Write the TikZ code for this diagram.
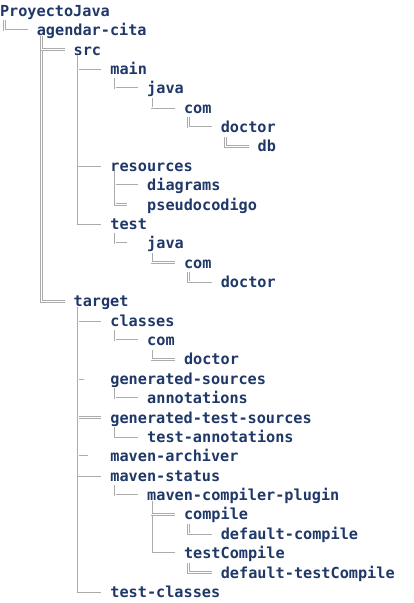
\documentclass[tikz,border=0pt]{standalone}
\usepackage{fontspec}
\setmonofont{DejaVu Sans Mono}
\usetikzlibrary{calc}
\definecolor{dirtext}{HTML}{1F3868}
\definecolor{treeline}{HTML}{ABABAB}

% one directory entry: name, indent level, row
\newcommand{\direntry}[4]{%
  \node[entry] (#1) at (36.8*#2pt, -16.3pt-19.37*#3pt) {#4};}
% trunk of a folder: down from the parent and round the corner to its last child
\newcommand{\dirtrunk}[3][9pt]{%
  \draw[treelink] ($(#2.base west)+(4.6pt,-4pt)$) |- ($(#3.base west)+(-#1,5.5pt)$);}
% side branch from a parent's trunk across to one of its other children
\newcommand{\dirtee}[3][9pt]{%
  \draw[treelink] ($(#2.base west)+(4.6pt,0)$) |- ($(#3.base west)+(-#1,5.5pt)$);}

\begin{document}
\begin{tikzpicture}[x=1pt,y=1pt,
  entry/.style={anchor=base west, inner sep=0pt, outer sep=0pt,
    text=dirtext, font=\ttfamily\bfseries\fontsize{15.2}{18}\selectfont},
  treelink/.style={draw=treeline, line width=0.65pt, double=white, double distance=1pt}]
\useasboundingbox (0,0) rectangle (414,-603);

\direntry{n0}{0}{0}{ProyectoJava}
\direntry{n1}{1}{1}{agendar-cita}
\direntry{n2}{2}{2}{src}
\direntry{n3}{3}{3}{main}
\direntry{n4}{4}{4}{java}
\direntry{n5}{5}{5}{com}
\direntry{n6}{6}{6}{doctor}
\direntry{n7}{7}{7}{db}
\direntry{n8}{3}{8}{resources}
\direntry{n9}{4}{9}{diagrams}
\direntry{n10}{4}{10}{pseudocodigo}
\direntry{n11}{3}{11}{test}
\direntry{n12}{4}{12}{java}
\direntry{n13}{5}{13}{com}
\direntry{n14}{6}{14}{doctor}
\direntry{n15}{2}{15}{target}
\direntry{n16}{3}{16}{classes}
\direntry{n17}{4}{17}{com}
\direntry{n18}{5}{18}{doctor}
\direntry{n19}{3}{19}{generated-sources}
\direntry{n20}{4}{20}{annotations}
\direntry{n21}{3}{21}{generated-test-sources}
\direntry{n22}{4}{22}{test-annotations}
\direntry{n23}{3}{23}{maven-archiver}
\direntry{n24}{3}{24}{maven-status}
\direntry{n25}{4}{25}{maven-compiler-plugin}
\direntry{n26}{5}{26}{compile}
\direntry{n27}{6}{27}{default-compile}
\direntry{n28}{5}{28}{testCompile}
\direntry{n29}{6}{29}{default-testCompile}
\direntry{n30}{3}{30}{test-classes}

% trunks, each ending at the last child
\dirtrunk{n0}{n1}
\dirtrunk{n1}{n15}
\dirtrunk{n2}{n11}
\dirtrunk{n3}{n4}
\dirtrunk{n4}{n5}
\dirtrunk{n5}{n6}
\dirtrunk{n6}{n7}
\dirtrunk[20pt]{n8}{n10}
\dirtrunk[20pt]{n11}{n12}
\dirtrunk{n12}{n13}
\dirtrunk{n13}{n14}
\dirtrunk{n15}{n30}
\dirtrunk{n16}{n17}
\dirtrunk{n17}{n18}
\dirtrunk{n19}{n20}
\dirtrunk{n21}{n22}
\dirtrunk{n24}{n25}
\dirtrunk{n25}{n28}
\dirtrunk{n26}{n27}
\dirtrunk{n28}{n29}

% side branches
\dirtee{n1}{n2}
\dirtee{n2}{n3}
\dirtee{n2}{n8}
\dirtee{n8}{n9}
\dirtee{n15}{n16}
\dirtee[26pt]{n15}{n19}
\dirtee{n15}{n21}
\dirtee[22pt]{n15}{n23}
\dirtee{n15}{n24}
\dirtee{n25}{n26}
\end{tikzpicture}
\end{document}
